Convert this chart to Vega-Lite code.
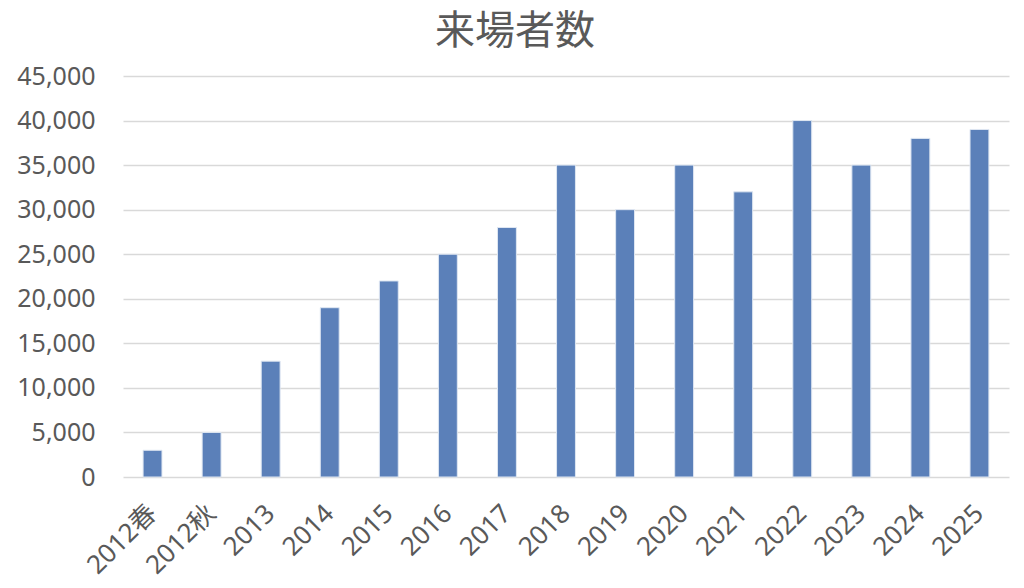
{
  "$schema": "https://vega.github.io/schema/vega-lite/v6.json",
  "autosize": {"type": "none"},
  "width": 886,
  "height": 401,
  "padding": {"left": 123, "top": 76, "right": 15, "bottom": 111},
  "background": "#ffffff",
  "title": {
    "text": "来場者数",
    "font": "Noto Sans CJK JP",
    "fontSize": 40,
    "fontWeight": "normal",
    "color": "#595959",
    "anchor": "middle",
    "baseline": "alphabetic",
    "dx": -51,
    "offset": -20
  },
  "config": {
    "view": {"stroke": null},
    "axis": {
      "labelFont": "Noto Sans, Noto Sans CJK JP",
      "labelFontSize": 25,
      "labelColor": "#595959",
      "ticks": false,
      "domain": false
    }
  },
  "data": {
    "values": [
      {"period": "2012春", "visitors": 3000},
      {"period": "2012秋", "visitors": 5000},
      {"period": "2013", "visitors": 13000},
      {"period": "2014", "visitors": 19000},
      {"period": "2015", "visitors": 22000},
      {"period": "2016", "visitors": 25000},
      {"period": "2017", "visitors": 28000},
      {"period": "2018", "visitors": 35000},
      {"period": "2019", "visitors": 30000},
      {"period": "2020", "visitors": 35000},
      {"period": "2021", "visitors": 32000},
      {"period": "2022", "visitors": 40000},
      {"period": "2023", "visitors": 35000},
      {"period": "2024", "visitors": 38000},
      {"period": "2025", "visitors": 39000}
    ]
  },
  "mark": {
    "type": "bar",
    "color": "#5b80b9",
    "stroke": "#dfe7f2",
    "strokeWidth": 1
  },
  "encoding": {
    "x": {
      "field": "period",
      "type": "nominal",
      "sort": null,
      "title": null,
      "scale": {"paddingInner": 0.68, "paddingOuter": 0.34},
      "axis": {
        "labelAngle": -45,
        "labelAlign": "right",
        "labelBaseline": "middle",
        "labelPadding": 32,
        "labelFontSize": 26,
        "grid": false
      }
    },
    "y": {
      "field": "visitors",
      "type": "quantitative",
      "title": null,
      "scale": {"domain": [0, 45000]},
      "axis": {
        "values": [0, 5000, 10000, 15000, 20000, 25000, 30000, 35000, 40000, 45000],
        "format": ",d",
        "labelPadding": 28,
        "grid": true,
        "gridColor": "#d9d9d9",
        "gridWidth": 1.5
      }
    }
  }
}
